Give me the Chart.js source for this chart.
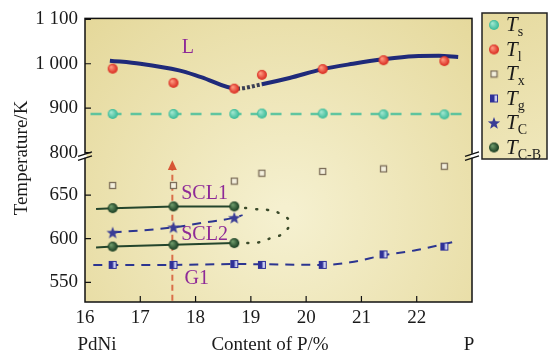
<!DOCTYPE html>
<html>
<head>
<meta charset="utf-8">
<script src="https://cdn.jsdelivr.net/npm/chart.js@4.4.1/dist/chart.umd.min.js"></script>
<style>
  html, body { margin: 0; padding: 0; background: #fff; }
</style>
</head>
<body>
<canvas id="grafica_temperaturas" width="548" height="360"></canvas>
<script>
// composiciones medidas (contenido de P, %)
const contenidoP = [16.5, 17.6, 18.7, 19.2, 20.3, 21.4, 22.5];
const tempTs = [887, 887, 887, 888, 888, 886, 886];
const tempTl = [989, 957, 944, 975, 988, 1008, 1006];
const tempTx = [661, 661, 666, 675, 677, 680, 683];
const tempTg = [570, 570, 571, 570, 570, 582, 591];

const contenidoTC = [16.5, 17.6, 18.7];
const tempTC = [607, 613, 624];
const tempTCB_sup = [635, 637, 637];
const tempTCB_inf = [591, 593, 595];

// curvas de tendencia
const curvaL_x = [16.45, 17.0, 17.7, 18.1, 18.75, 19.2, 19.7, 20.3, 20.85, 21.4, 21.95, 22.4, 22.75];
const curvaL_y = [1007, 1000, 985, 970, 944, 954, 968, 988, 1000, 1010, 1017, 1018, 1015];
const lineaTs_x = [16.1, 22.85];
const lineaTs_y = [887, 887];
const lineaTg_x = [16.15, 17.6, 18.7, 20.3, 20.8, 21.4, 22.0, 22.65];
const lineaTg_y = [570, 570, 571, 570, 573, 581, 587, 596];
const lineaTC_x = [16.5, 17.6, 18.1, 18.7, 18.85];
const lineaTC_y = [607, 613, 618, 624, 627];
const lineaSup_x = [16.2, 16.5, 17.6, 18.7];
const lineaSup_y = [634, 635, 637, 637];
const lineaInf_x = [16.2, 16.5, 17.6, 18.7];
const lineaInf_y = [590, 591, 593, 595];
const nariz_x = [18.7, 19.07, 19.3, 19.52, 19.7, 19.58, 19.37, 19.16, 18.7];
const nariz_y = [637, 634, 633, 629, 619, 606, 601, 596, 595];
const flecha_x = [17.58, 17.58];
const flecha_y = [529, 680];
const flechaPunta = 690;

const ticksX = [16, 17, 18, 19, 20, 21, 22, 23];
const ticksArriba = [800, 900, 1000, 1100];
const ticksAbajo = [550, 600, 650];

const leyendaSub = ['s', 'l', 'x', 'g', 'C', 'C-B'];

const SERIF = '"Liberation Serif", "DejaVu Serif", serif';
const MORADO = '#8e2a97';

function pares(xs, ys) {
  return xs.map((x, i) => ({x: x, y: ys[i]}));
}

function bola(color, luz, r) {
  const s = r * 2 + 2;
  const c = document.createElement('canvas');
  c.width = c.height = s;
  const g = c.getContext('2d');
  const grad = g.createRadialGradient(s/2 - r*0.35, s/2 - r*0.35, 0.5, s/2, s/2, r);
  grad.addColorStop(0, luz);
  grad.addColorStop(1, color);
  g.fillStyle = grad;
  g.beginPath(); g.arc(s/2, s/2, r, 0, Math.PI*2); g.fill();
  return c;
}

function cuadroAbierto() {
  const c = document.createElement('canvas');
  c.width = c.height = 9;
  const g = c.getContext('2d');
  g.fillStyle = '#f4f0de';
  g.fillRect(1, 1, 7, 7);
  g.strokeStyle = '#7d6f5a';
  g.lineWidth = 1.3;
  g.strokeRect(1.5, 1.5, 6, 6);
  return c;
}

function cuadroMedio() {
  const c = document.createElement('canvas');
  c.width = c.height = 10;
  const g = c.getContext('2d');
  g.fillStyle = '#c9cdf0';
  g.fillRect(1, 1, 8, 8);
  g.fillStyle = '#2f3198';
  g.fillRect(1, 1, 4.5, 8);
  g.strokeStyle = '#2f3198';
  g.lineWidth = 1;
  g.strokeRect(1.5, 1.5, 7, 7);
  return c;
}

function estrella() {
  const c = document.createElement('canvas');
  c.width = c.height = 14;
  const g = c.getContext('2d');
  g.fillStyle = '#3a3d96';
  g.beginPath();
  for (let i = 0; i < 10; i++) {
    const r = i % 2 ? 2.7 : 6.5;
    const a = -Math.PI/2 + i * Math.PI/5;
    g.lineTo(7 + r*Math.cos(a), 7.5 + r*Math.sin(a));
  }
  g.closePath(); g.fill();
  return c;
}

const icoTs = bola('#38b996', '#9fe6cf', 5);
const icoTl = bola('#d8261c', '#ff9a80', 5);
const icoTx = cuadroAbierto();
const icoTg = cuadroMedio();
const icoTC = estrella();
const icoTCB = bola('#163a1f', '#6d9a6a', 5);
const iconos = [icoTs, icoTl, icoTx, icoTg, icoTC, icoTCB];

const marco = {
  id: 'marco',
  beforeDraw(chart) {
    const {ctx, chartArea: a} = chart;
    const g = ctx.createRadialGradient(285, 215, 10, 285, 215, 290);
    g.addColorStop(0, '#f5f0cf');
    g.addColorStop(1, '#e4d798');
    ctx.save();
    ctx.fillStyle = g;
    ctx.fillRect(a.left, a.top, a.right - a.left, a.bottom - a.top);
    ctx.restore();
  },
  afterDatasetsDraw(chart) {
    const {ctx, chartArea: a} = chart;
    const sx = chart.scales.x, sup = chart.scales.yArriba, inf = chart.scales.yAbajo;
    ctx.save();

    // punta de la flecha
    const fx = sx.getPixelForValue(flecha_x[1]);
    const fy0 = inf.getPixelForValue(flecha_y[1]);
    const fy1 = inf.getPixelForValue(flechaPunta);
    ctx.fillStyle = 'rgba(212,70,40,0.9)';
    ctx.beginPath();
    ctx.moveTo(fx, fy1);
    ctx.lineTo(fx - 4.5, fy0 + 1);
    ctx.lineTo(fx + 4.5, fy0 + 1);
    ctx.closePath(); ctx.fill();

    // marco y marcas interiores
    ctx.strokeStyle = '#111';
    ctx.lineWidth = 1.5;
    ctx.strokeRect(a.left, a.top, a.right - a.left, a.bottom - a.top);
    ctx.lineWidth = 1.2;
    ctx.beginPath();
    sx.ticks.forEach(t => {
      if (t.value <= sx.min || t.value >= sx.max) return;
      const px = sx.getPixelForValue(t.value);
      ctx.moveTo(px, a.bottom); ctx.lineTo(px, a.bottom - 6);
    });
    [sup, inf].forEach(s => s.ticks.forEach(t => {
      const py = s.getPixelForValue(t.value);
      ctx.moveTo(a.left, py); ctx.lineTo(a.left + 6, py);
    }));
    ctx.stroke();

    // cortes del eje
    const yc = sup.bottom;
    [a.left, a.right].forEach(xc => {
      ctx.strokeStyle = '#fff';
      ctx.lineWidth = 3;
      ctx.beginPath(); ctx.moveTo(xc, yc - 2); ctx.lineTo(xc, yc + 2); ctx.stroke();
      ctx.strokeStyle = '#111';
      ctx.lineWidth = 1.3;
      ctx.beginPath();
      ctx.moveTo(xc - 7, yc + 0.5); ctx.lineTo(xc + 7, yc - 4);
      ctx.moveTo(xc - 7, yc + 4.5); ctx.lineTo(xc + 7, yc);
      ctx.stroke();
    });

    // rótulos de las regiones
    ctx.fillStyle = MORADO;
    ctx.font = '20px ' + SERIF;
    ctx.textBaseline = 'middle';
    ctx.textAlign = 'left';
    ctx.fillText('L', sx.getPixelForValue(17.75), sup.getPixelForValue(1036));
    ctx.fillText('SCL1', sx.getPixelForValue(17.74), inf.getPixelForValue(652));
    ctx.fillText('SCL2', sx.getPixelForValue(17.74), inf.getPixelForValue(605));
    ctx.fillText('G1', sx.getPixelForValue(17.8), inf.getPixelForValue(554));

    // títulos de los ejes
    ctx.fillStyle = '#1a1a1a';
    ctx.font = '19px ' + SERIF;
    ctx.textAlign = 'center';
    ctx.textBaseline = 'alphabetic';
    ctx.fillText('PdNi', 97, 350);
    ctx.fillText('Content of P/%', 270, 350);
    ctx.fillText('P', 469, 350);
    ctx.save();
    ctx.translate(27, 158);
    ctx.rotate(-Math.PI/2);
    ctx.fillText('Temperature/K', 0, 0);
    ctx.restore();

    // leyenda
    const lx = 482, ly = 13, lw = 65, lh = 146;
    const lg = ctx.createLinearGradient(lx, ly, lx + lw, ly + lh);
    lg.addColorStop(0, '#e6da9f');
    lg.addColorStop(1, '#efe7bb');
    ctx.fillStyle = lg;
    ctx.fillRect(lx, ly, lw, lh);
    ctx.strokeStyle = '#222';
    ctx.lineWidth = 1.5;
    ctx.strokeRect(lx, ly, lw, lh);
    ctx.textAlign = 'left';
    leyendaSub.forEach((sub, i) => {
      const base = ly + 18 + i * 24.5;
      const ic = iconos[i];
      ctx.drawImage(ic, 494 - ic.width/2, base - 6 - ic.height/2);
      ctx.fillStyle = '#1a1a1a';
      ctx.font = 'italic 21px ' + SERIF;
      ctx.fillText('T', 506, base);
      const w = ctx.measureText('T').width;
      ctx.font = '14px ' + SERIF;
      ctx.fillText(sub, 506 + w, base + 5);
    });
    ctx.restore();
  }
};

const fuenteTick = {family: SERIF, size: 19};

new Chart('grafica_temperaturas', {
  type: 'line',
  data: {
    datasets: [
      {data: pares(contenidoP, tempTs), yAxisID: 'yArriba', showLine: false, pointStyle: icoTs, order: 1},
      {data: pares(contenidoP, tempTl), yAxisID: 'yArriba', showLine: false, pointStyle: icoTl, order: 1},
      {data: pares(contenidoP, tempTx), yAxisID: 'yAbajo', showLine: false, pointStyle: icoTx, order: 1},
      {data: pares(contenidoP, tempTg), yAxisID: 'yAbajo', showLine: false, pointStyle: icoTg, order: 1},
      {data: pares(contenidoTC, tempTC), yAxisID: 'yAbajo', showLine: false, pointStyle: icoTC, order: 1},
      {data: pares(contenidoTC, tempTCB_sup), yAxisID: 'yAbajo', showLine: false, pointStyle: icoTCB, order: 1},
      {data: pares(contenidoTC, tempTCB_inf), yAxisID: 'yAbajo', showLine: false, pointStyle: icoTCB, order: 1},
      {
        data: pares(curvaL_x, curvaL_y), yAxisID: 'yArriba', pointRadius: 0,
        borderColor: '#1f2a7a', borderWidth: 4, cubicInterpolationMode: 'monotone',
        segment: {
          borderDash: c => c.p0DataIndex === 4 ? [3, 2] : undefined,
          borderColor: c => c.p0DataIndex === 4 ? '#3b3f55' : undefined
        },
        order: 2
      },
      {data: pares(lineaTs_x, lineaTs_y), yAxisID: 'yArriba', pointRadius: 0,
        borderColor: 'rgba(70,190,155,0.85)', borderWidth: 2.5, borderDash: [11, 9], order: 2},
      {data: pares(lineaTg_x, lineaTg_y), yAxisID: 'yAbajo', pointRadius: 0,
        borderColor: '#2c3590', borderWidth: 2, borderDash: [9, 7], cubicInterpolationMode: 'monotone', order: 2},
      {data: pares(lineaTC_x, lineaTC_y), yAxisID: 'yAbajo', pointRadius: 0,
        borderColor: '#2c3590', borderWidth: 2, borderDash: [9, 7], cubicInterpolationMode: 'monotone', order: 2},
      {data: pares(lineaSup_x, lineaSup_y), yAxisID: 'yAbajo', pointRadius: 0,
        borderColor: '#24452c', borderWidth: 2, order: 2},
      {data: pares(lineaInf_x, lineaInf_y), yAxisID: 'yAbajo', pointRadius: 0,
        borderColor: '#24452c', borderWidth: 2, order: 2},
      {data: pares(nariz_x, nariz_y), yAxisID: 'yAbajo', pointRadius: 0, tension: 0.45,
        borderColor: '#3b4a2a', borderWidth: 2.5, borderDash: [1, 10], borderCapStyle: 'round', order: 2},
      {data: pares(flecha_x, flecha_y), yAxisID: 'yAbajo', pointRadius: 0,
        borderColor: 'rgba(212,80,45,0.8)', borderWidth: 2, borderDash: [6, 4], order: 3}
    ]
  },
  options: {
    responsive: false,
    animation: false,
    devicePixelRatio: 1,
    layout: {padding: {left: 0, top: 13, right: 76, bottom: 0}},
    plugins: {legend: {display: false}, tooltip: {enabled: false}},
    scales: {
      x: {
        type: 'linear', min: 16, max: 23,
        afterBuildTicks: s => { s.ticks = ticksX.map(v => ({value: v})); },
        ticks: {font: fuenteTick, color: '#1a1a1a', padding: 5, callback: v => v === 23 ? '' : String(v)},
        grid: {display: false, drawTicks: false},
        border: {display: false},
        afterFit: s => { s.height = 58; }
      },
      yAbajo: {
        type: 'linear', position: 'left', stack: 'temp', stackWeight: 149,
        min: 527.5, max: 695,
        afterBuildTicks: s => { s.ticks = ticksAbajo.map(v => ({value: v})); },
        ticks: {font: fuenteTick, color: '#1a1a1a', padding: 7},
        grid: {display: false, drawTicks: false},
        border: {display: false},
        afterFit: s => { s.width = 85; }
      },
      yArriba: {
        type: 'linear', position: 'left', stack: 'temp', stackWeight: 140,
        min: 793, max: 1102,
        afterBuildTicks: s => { s.ticks = ticksArriba.map(v => ({value: v})); },
        ticks: {font: fuenteTick, color: '#1a1a1a', padding: 7,
          callback: v => v >= 1000 ? '1 ' + String(v).slice(1) : String(v)},
        grid: {display: false, drawTicks: false},
        border: {display: false},
        afterFit: s => { s.width = 85; }
      }
    }
  },
  plugins: [marco]
});
</script>
</body>
</html>
